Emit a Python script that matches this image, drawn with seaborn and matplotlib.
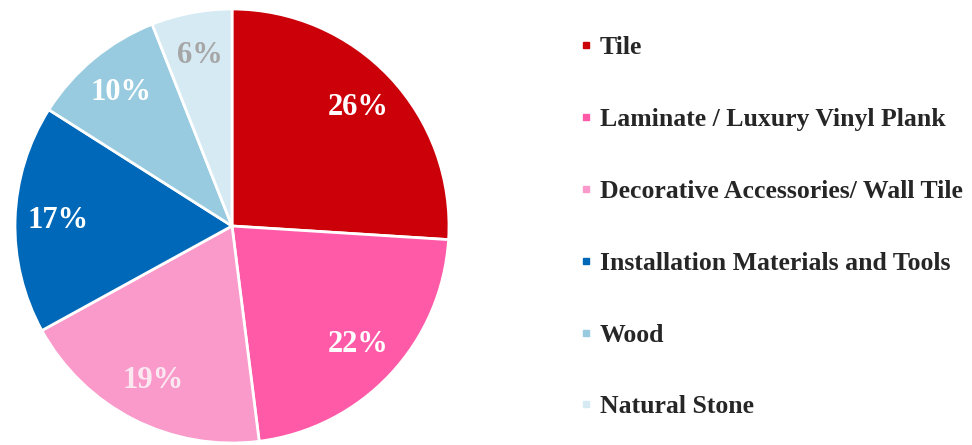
"""
Flooring sales mix pie chart (seaborn styling + matplotlib pie).
"""

import matplotlib

matplotlib.use("Agg")
import matplotlib.pyplot as plt
import seaborn as sns
from matplotlib.lines import Line2D

# ---------------------------------------------------------------------------
# Data
# ---------------------------------------------------------------------------
categories = [
    "Tile",
    "Laminate / Luxury Vinyl Plank",
    "Decorative Accessories/ Wall Tile",
    "Installation Materials and Tools",
    "Wood",
    "Natural Stone",
]
shares = [26, 22, 19, 17, 10, 6]
slice_colors = ["#CC0008", "#FF5AA8", "#F99ACB", "#0068B8", "#98CBDF", "#D6EAF3"]
label_colors = ["white", "white", "#FBE9F2", "white", "white", "#A6A6A6"]

sns.set_theme(style="white")
plt.rcParams["font.family"] = ["Liberation Serif", "DejaVu Serif"]

fig = plt.figure(figsize=(9.72, 4.45), dpi=100)
ax = fig.add_axes([15 / 972, 2 / 445, 434 / 972, 434 / 445])

wedges, texts, autotexts = ax.pie(
    shares,
    colors=slice_colors,
    startangle=90,
    counterclock=False,
    autopct="%d%%",
    pctdistance=0.8,
    radius=1.0,
    wedgeprops={"edgecolor": "white", "linewidth": 2},
)
for t, c in zip(autotexts, label_colors):
    t.set_color(c)
    t.set_fontsize(22)
    t.set_fontweight("bold")
ax.set_xlim(-1, 1)
ax.set_ylim(-1, 1)
ax.set_aspect("equal")
ax.axis("off")

handles = [
    Line2D([0], [0], marker="s", linestyle="none", markersize=5,
           markerfacecolor=c, markeredgecolor=c)
    for c in slice_colors
]
fig.legend(
    handles,
    categories,
    loc="upper left",
    bbox_to_anchor=(569 / 972, 1 - 26 / 445),
    frameon=False,
    prop={"weight": "bold", "size": 18.5},
    handlelength=0.5,
    handletextpad=0.3,
    labelspacing=1.9,
    borderaxespad=0,
)

fig.savefig("out.png", dpi=100)
